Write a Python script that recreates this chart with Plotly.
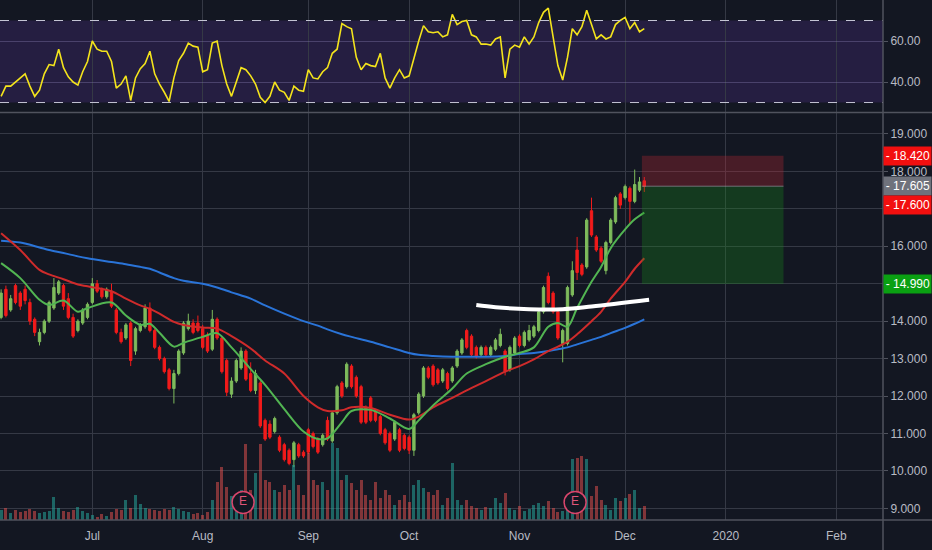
import pandas as pd
import plotly.graph_objects as go

# daily bars, first bar 2019-06-04 (business days)
opens = [14.10, 14.85, 14.30, 14.95, 14.75, 14.85, 14.50, 14.05, 13.45, 13.70, 14.00, 14.35, 14.75, 14.95, 14.60, 14.10, 13.75, 13.95, 14.10, 14.50,
         15.00, 14.85, 14.65, 14.80, 14.30, 13.70, 13.55, 13.95, 13.20, 13.75, 13.85, 14.35, 13.75, 13.30, 13.00, 12.70, 12.20, 12.60, 13.15, 13.80, 13.95, 13.95, 13.80, 13.60,
         13.25, 14.05, 13.55, 12.95, 12.05, 12.40, 12.75, 13.20, 12.60, 12.15, 12.35, 11.35, 11.25, 11.05, 10.90, 10.70, 10.55, 10.30, 10.70, 10.50, 11.10, 11.00, 10.85, 10.70, 11.35, 10.80,
         11.55, 12.35, 12.25, 12.80, 12.50, 12.25, 11.70, 11.95, 11.60, 11.45, 11.10, 11.00, 10.85, 11.10, 10.95, 10.90, 10.55, 11.55, 12.00, 12.75, 12.80, 12.70, 12.40, 12.60, 12.40,
         12.80, 13.15, 13.75, 13.60, 13.30, 13.10, 13.30, 13.10, 13.25, 13.35, 13.20, 12.70, 13.15, 13.60, 13.35, 13.50, 13.60, 13.75, 14.25, 15.20, 14.75, 14.25, 13.40, 13.40,
         14.70, 15.90, 15.50, 15.45, 16.95, 16.25, 15.95, 15.35, 16.10, 16.65, 17.40, 17.30, 17.55, 17.20, 17.50, 17.75]
highs = [14.85, 14.95, 14.70, 15.00, 14.80, 14.95, 14.60, 14.10, 13.80, 14.05, 14.55, 15.15, 15.10, 15.00, 14.75, 14.20, 14.05, 14.35, 14.50, 15.15,
         15.10, 14.90, 14.90, 15.00, 14.35, 13.80, 13.95, 14.00, 13.85, 13.95, 14.45, 14.50, 13.80, 13.35, 13.05, 12.75, 12.70, 13.25, 14.00, 14.20, 14.05, 14.15, 13.90, 13.70,
         14.30, 14.10, 13.60, 13.00, 12.50, 13.00, 13.30, 13.25, 12.90, 12.70, 12.40, 11.40, 11.35, 11.45, 10.95, 10.75, 10.60, 10.80, 10.75, 10.55, 11.15, 11.05, 10.90, 11.00, 11.45, 11.60,
         12.30, 12.40, 12.90, 12.85, 12.55, 12.30, 11.75, 12.00, 11.65, 11.50, 11.15, 11.05, 11.35, 11.15, 11.00, 10.95, 11.55, 12.10, 12.80, 12.80, 12.85, 12.75, 12.75, 12.65, 12.80,
         13.25, 13.55, 13.80, 13.65, 13.35, 13.35, 13.35, 13.35, 13.55, 13.80, 13.25, 13.35, 13.60, 13.65, 13.75, 13.90, 13.90, 14.30, 14.95, 15.30, 14.80, 14.30, 13.80, 14.95,
         15.60, 16.25, 15.55, 16.75, 17.30, 16.30, 16.00, 16.15, 16.75, 17.35, 17.45, 17.65, 17.60, 18.05, 17.85, 17.85]
lows = [14.05, 14.10, 14.25, 14.45, 14.30, 14.45, 13.90, 13.60, 13.35, 13.65, 13.95, 14.30, 14.70, 14.30, 14.05, 13.55, 13.70, 13.90, 14.05, 14.45,
        14.75, 14.60, 14.60, 14.35, 13.65, 13.40, 13.50, 12.80, 13.10, 13.70, 13.80, 13.70, 13.25, 12.95, 12.60, 12.15, 11.80, 12.55, 13.10, 13.75, 13.65, 13.70, 13.25, 13.15,
        13.20, 13.50, 12.60, 12.00, 11.95, 12.35, 12.70, 12.40, 12.10, 12.05, 11.15, 10.80, 10.85, 11.00, 10.50, 10.25, 10.15, 10.10, 10.35, 10.35, 10.45, 10.60, 10.45, 10.65, 10.80, 10.75,
        11.50, 11.95, 12.20, 12.20, 11.95, 11.25, 11.25, 11.30, 11.30, 10.95, 10.70, 10.50, 10.80, 10.50, 10.55, 10.45, 10.40, 11.50, 11.95, 12.45, 12.25, 12.30, 12.35, 12.15, 12.35,
        12.75, 13.10, 13.25, 13.05, 13.00, 13.05, 13.05, 13.05, 13.20, 13.30, 12.55, 12.65, 13.10, 13.30, 13.30, 13.45, 13.55, 13.70, 14.20, 14.45, 14.20, 13.50, 12.90, 13.35,
        14.65, 15.10, 15.20, 15.40, 16.25, 15.85, 15.55, 15.25, 16.05, 16.60, 17.00, 17.25, 16.60, 17.15, 17.45, 17.45]
closes = [14.75, 14.15, 14.60, 14.50, 14.40, 14.55, 14.00, 13.70, 13.70, 14.00, 14.50, 14.90, 15.05, 14.40, 14.10, 13.60, 14.00, 14.30, 14.45, 15.00,
          14.80, 14.65, 14.85, 14.40, 13.70, 13.45, 13.90, 12.95, 13.80, 13.90, 14.35, 13.75, 13.30, 13.00, 12.65, 12.20, 12.60, 13.20, 13.95, 14.00, 13.70, 13.75, 13.30, 13.20,
          14.05, 13.55, 12.65, 12.10, 12.40, 12.95, 13.20, 12.45, 12.15, 12.60, 11.20, 10.85, 10.90, 11.40, 10.55, 10.30, 10.20, 10.75, 10.40, 10.40, 10.50, 10.65, 10.50, 10.95, 10.85, 11.55,
          12.25, 12.00, 12.85, 12.25, 12.00, 11.30, 11.30, 11.35, 11.35, 11.00, 10.75, 10.55, 11.30, 10.55, 10.60, 10.55, 11.50, 12.05, 12.75, 12.50, 12.30, 12.35, 12.70, 12.20, 12.75,
          13.20, 13.50, 13.30, 13.10, 13.05, 13.30, 13.10, 13.30, 13.50, 13.65, 12.65, 13.30, 13.55, 13.35, 13.70, 13.75, 13.85, 14.25, 14.90, 14.50, 14.25, 13.55, 13.75, 14.90,
          15.35, 15.30, 15.25, 16.70, 16.30, 15.90, 15.60, 16.10, 16.70, 17.30, 17.10, 17.60, 17.20, 17.65, 17.72, 17.60]
volume_k = [250, 300, 175, 250, 200, 225, 275, 225, 175, 200, 225, 575, 300, 225, 200, 250, 325, 225, 175, 125,
            75, 150, 100, 200, 275, 250, 500, 300, 625, 400, 300, 275, 250, 225, 275, 250, 325, 275, 225, 200, 150, 175, 125, 200,
            500, 950, 1325, 825, 600, 450, 750, 1900, 750, 1175, 1900, 1000, 950, 750, 700, 875, 750, 1375, 875, 625, 1675, 1000, 875, 950, 750, 1925,
            1800, 1000, 1125, 925, 750, 1000, 625, 500, 950, 550, 750, 625, 375, 500, 625, 450, 875, 1000, 800, 700, 625, 750, 375, 550, 1425,
            500, 375, 500, 350, 300, 250, 325, 300, 550, 425, 675, 300, 250, 350, 225, 275, 375, 425, 350, 475, 300, 200, 225, 325,
            1525, 1550, 1600, 1525, 600, 850, 500, 375, 250, 550, 475, 550, 650, 750, 300, 350]
rsi = [33, 38, 38, 40, 42, 44, 38, 33, 36, 44, 48.5, 48, 56, 47, 42.5, 40, 38.5, 45, 50, 60,
       56, 55, 55, 50, 37, 39, 43, 31, 42, 46.5, 49, 55, 44, 39, 35, 30.5, 42, 50.5, 54, 59, 57.5, 57, 45, 46,
       59, 60, 48, 39, 33, 40, 47, 46, 43, 39, 32.5, 30, 33, 40, 36, 35, 31, 38, 36, 35.5, 46, 42, 41.5, 45, 47, 54,
       56, 68.5, 67, 66, 52, 46, 49, 48, 47.5, 54, 42, 37, 42, 46, 42, 43, 52, 60, 67.5, 64.5, 64, 64.5, 62, 63, 73, 68, 69.5,
       70, 63, 62, 58.5, 58.5, 58, 61, 62, 42, 56, 58, 57, 62, 58.5, 62, 69, 74, 76, 63, 48, 41, 52,
       66, 63, 67, 75, 68, 61, 63, 61, 62, 68, 70, 71.5, 66, 69, 64.5, 66]

# moving averages at these bar numbers
ma_pos = [0, 4, 8, 10, 13, 16, 18, 23, 26, 29, 31, 33, 36, 38, 42, 45, 48, 52, 55, 59, 63, 66, 68,
          71, 73, 77, 81, 85, 87, 90, 94, 97, 101, 105, 108, 111, 114, 116, 118, 120, 123, 125, 127, 130, 132, 134]
ma_fast = [15.55, 15.15, 14.57, 14.43, 14.55, 14.25, 14.35, 14.5, 14.15, 13.9, 13.93, 13.69, 13.32, 13.42, 13.58, 13.68, 13.3, 12.72, 12.3, 11.65, 11.05, 10.85, 10.87,
           11.3, 11.6, 11.63, 11.4, 11.12, 11.35, 11.75, 12.2, 12.6, 12.85, 13.05, 13.15, 13.3, 13.85, 13.95, 13.85, 14.35, 15.05, 15.45, 15.95, 16.45, 16.72, 16.9]
ma_mid = [16.35, 15.9, 15.37, 15.25, 15.12, 14.98, 14.93, 14.8, 14.6, 14.42, 14.33, 14.2, 13.98, 13.9, 13.83, 13.8, 13.6, 13.27, 12.95, 12.6, 12.0, 11.7, 11.6,
          11.62, 11.7, 11.68, 11.5, 11.37, 11.45, 11.7, 11.95, 12.15, 12.4, 12.65, 12.8, 12.98, 13.2, 13.32, 13.45, 13.65, 14.0, 14.25, 14.6, 15.05, 15.4, 15.68]
ma_slow = [16.15, 16.1, 15.97, 15.9, 15.82, 15.73, 15.68, 15.58, 15.52, 15.45, 15.4, 15.3, 15.15, 15.08, 15.0, 14.9, 14.77, 14.6, 14.42, 14.2, 14.0, 13.88, 13.78,
           13.65, 13.58, 13.45, 13.3, 13.15, 13.1, 13.07, 13.05, 13.05, 13.05, 13.07, 13.12, 13.15, 13.2, 13.25, 13.3, 13.38, 13.5, 13.58, 13.68, 13.82, 13.93, 14.05]

# hand drawn white arc
curve_dates = ["2019-10-21", "2019-10-25", "2019-11-05", "2019-11-14", "2019-11-22", "2019-12-10"]
curve_price = [14.43, 14.37, 14.32, 14.32, 14.39, 14.57]

earnings_dates = ["2019-08-13 10:00", "2019-11-18 14:00"]

# short position tool
stop_price = 18.42
entry_price = 17.605
last_price = 17.60
target_price = 14.99
box_start = "2019-12-06 12:00"
box_end = "2020-01-17"

month_ticks = ["2019-07-01", "2019-08-01", "2019-09-02", "2019-10-01", "2019-11-01", "2019-12-03", "2020-01-01", "2020-02-03"]
month_labels = ["Jul", "Aug", "Sep", "Oct", "Nov", "Dec", "2020", "Feb"]
price_ticks = [9, 10, 11, 12, 13, 14, 15, 16, 17, 18, 19]
price_labels = ["9.000", "10.000", "11.000", "12.000", "13.000", "14.000", "", "16.000", "", "18.000", "19.000"]

BG = "#131722"
GRID = "#353945"
SEP = "#50535e"
TXT = "#b8bbc4"
UP = "#7ebb5c"
DOWN = "#f21b1b"

dates = pd.bdate_range("2019-06-04", periods=len(closes))
ma_dates = [dates[p] for p in ma_pos]
vol_colors = ["rgba(38,166,154,0.55)" if c >= o else "rgba(239,83,80,0.5)" for o, c in zip(opens, closes)]

fig = go.Figure()

fig.add_trace(go.Scatter(x=dates, y=rsi, mode="lines", line=dict(color="#f4e41c", width=1.6),
                         xaxis="x", yaxis="y", hoverinfo="skip"))

fig.add_trace(go.Bar(x=dates, y=volume_k, marker=dict(color=vol_colors, line=dict(width=0)),
                     width=0.62 * 86400000, xaxis="x2", yaxis="y3", hoverinfo="skip"))

fig.add_trace(go.Candlestick(x=dates, open=opens, high=highs, low=lows, close=closes,
                             increasing=dict(line=dict(color=UP, width=1), fillcolor=UP),
                             decreasing=dict(line=dict(color=DOWN, width=1), fillcolor=DOWN),
                             whiskerwidth=0, xaxis="x2", yaxis="y2", hoverinfo="skip"))

for vals, col in [(ma_slow, "#2a74d8"), (ma_mid, "#cf2b2b"), (ma_fast, "#52b552")]:
    fig.add_trace(go.Scatter(x=ma_dates, y=vals, mode="lines",
                             line=dict(color=col, width=2, shape="spline", smoothing=0.9),
                             xaxis="x2", yaxis="y2", hoverinfo="skip"))

fig.add_trace(go.Scatter(x=curve_dates, y=curve_price, mode="lines",
                         line=dict(color="white", width=4, shape="spline"),
                         xaxis="x2", yaxis="y2", hoverinfo="skip"))

fig.add_trace(go.Scatter(x=earnings_dates, y=[440] * len(earnings_dates), mode="markers+text",
                         marker=dict(size=22, color=BG, line=dict(color="#d9466c", width=1.5)),
                         text=["E"] * len(earnings_dates), textposition="middle center",
                         textfont=dict(color="#e0557a", size=12, family="Liberation Sans"),
                         xaxis="x2", yaxis="y3", hoverinfo="skip"))

shapes = [
    # RSI band and bounds
    dict(type="rect", xref="paper", yref="y", x0=0, x1=1, y0=30, y1=70,
         fillcolor="rgba(110,60,190,0.2)", line=dict(width=0), layer="below"),
    dict(type="line", xref="paper", yref="y", x0=0, x1=1, y0=70, y1=70,
         line=dict(color="#c4c4d4", width=1, dash="dash")),
    dict(type="line", xref="paper", yref="y", x0=0, x1=1, y0=30, y1=30,
         line=dict(color="#c4c4d4", width=1, dash="dash")),
    # position box
    dict(type="rect", xref="x2", yref="y2", x0=box_start, x1=box_end, y0=entry_price, y1=stop_price,
         fillcolor="rgba(196,40,54,0.3)", line=dict(width=0)),
    dict(type="rect", xref="x2", yref="y2", x0=box_start, x1=box_end, y0=target_price, y1=entry_price,
         fillcolor="rgba(22,140,27,0.3)", line=dict(width=0)),
    dict(type="line", xref="x2", yref="y2", x0=box_start, x1=box_end, y0=entry_price, y1=entry_price,
         line=dict(color="rgba(160,160,170,0.6)", width=1)),
    # pane separators
    dict(type="line", xref="paper", yref="paper", x0=0, x1=1.06, y0=0.7837, y1=0.7837,
         line=dict(color=SEP, width=1.5)),
    dict(type="line", xref="paper", yref="paper", x0=1, x1=1, y0=-0.07, y1=1,
         line=dict(color=SEP, width=1.5)),
    dict(type="line", xref="paper", yref="paper", x0=0, x1=1.06, y0=0, y1=0,
         line=dict(color=SEP, width=1.5)),
]

annotations = []
for price, bg, shift in [(stop_price, "#f20f0f", 0), (entry_price, "#6f727c", 0),
                         (last_price, "#f20f0f", -19), (target_price, "#0aa012", 0)]:
    annotations.append(dict(xref="paper", yref="y2", x=1, y=price, xanchor="left", yanchor="middle",
                            yshift=shift, text="- %.3f" % price, showarrow=False, align="right",
                            bgcolor=bg, width=45, height=16, borderpad=1,
                            font=dict(color="white", size=12, family="Liberation Sans")))

xcommon = dict(type="date", range=["2019-06-03 18:30", "2020-02-14 17:30"],
               rangebreaks=[dict(bounds=["sat", "mon"])],
               tickvals=month_ticks, ticktext=month_labels,
               showgrid=True, gridcolor=GRID, gridwidth=1, zeroline=False, showline=False)

fig.update_layout(
    width=932, height=550,
    margin=dict(l=0, r=49, t=0, b=30),
    paper_bgcolor=BG, plot_bgcolor=BG,
    showlegend=False,
    bargap=0,
    font=dict(family="Liberation Sans", color=TXT, size=12),
    xaxis=dict(**xcommon, anchor="y", matches="x2", showticklabels=False, ticks=""),
    xaxis2=dict(**xcommon, anchor="y2", ticks="outside", ticklen=5, tickcolor=BG,
                rangeslider=dict(visible=False), tickfont=dict(size=12, color=TXT)),
    yaxis=dict(domain=[0.7846, 1], range=[25.37, 80], side="right", tickvals=[40, 60],
               ticktext=["40.00", "60.00"], showgrid=True, gridcolor="rgba(120,110,160,0.45)",
               zeroline=False, ticks="outside", ticklen=4, tickcolor=SEP),
    yaxis2=dict(domain=[0, 0.7827], range=[8.688, 19.561], side="right",
                tickvals=price_ticks, ticktext=price_labels, showgrid=True, gridcolor=GRID,
                zeroline=False, ticks="outside", ticklen=4, tickcolor=SEP),
    yaxis3=dict(overlaying="y2", range=[0, 10175], visible=False),
    shapes=shapes,
    annotations=annotations,
)

fig.write_html("out.html", config={"displayModeBar": False},
               post_script="document.body.style.margin='0';document.body.style.background='%s';" % BG)
